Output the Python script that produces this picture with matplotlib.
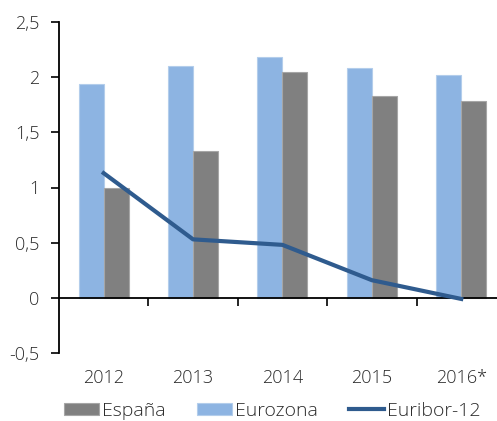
import numpy as np
import matplotlib
matplotlib.use("Agg")
import matplotlib.pyplot as plt

# Data
years = ['2012', '2013', '2014', '2015', '2016*']
espana = [1.00, 1.33, 2.05, 1.83, 1.78]
eurozona = [1.94, 2.10, 2.18, 2.08, 2.02]
euribor = [1.13, 0.53, 0.48, 0.16, -0.01]
yticks = [-0.5, 0, 0.5, 1, 1.5, 2, 2.5]
ytick_labels = ['-0,5', '0', '0,5', '1', '1,5', '2', '2,5']

plt.rcParams['font.family'] = ['Open Sans', 'DejaVu Sans']
plt.rcParams['font.size'] = 13
plt.rcParams['font.weight'] = 'light'

fig = plt.figure(figsize=(4.97, 4.21), dpi=100)
ax = fig.add_axes([59/497, (421-353)/421, (497-59)/497, (353-22)/421])

x = np.arange(len(years))
w = 0.28
b_eu = ax.bar(x - w/2, eurozona, w, color='#8DB4E2', edgecolor='#B3CDEB',
              linewidth=0.8, zorder=2)
b_es = ax.bar(x + w/2, espana, w, color='#808080', edgecolor='#A6A6A6',
              linewidth=0.8, zorder=2)
l_eb, = ax.plot(x, euribor, color='#2F5B8E', linewidth=3, zorder=3)

ax.set_xlim(-0.5, 4.4)
ax.set_ylim(-0.5, 2.5)
ax.set_yticks(yticks)
ax.set_yticklabels(ytick_labels, color='#2b2b2b')
ax.tick_params(axis='y', length=6, width=1.2, pad=8)

ax.spines['bottom'].set_position(('data', 0))
ax.spines['top'].set_visible(False)
ax.spines['right'].set_visible(False)
ax.spines['left'].set_linewidth(1.3)
ax.spines['bottom'].set_linewidth(1.3)

ax.set_xticks(x)
ax.set_xticklabels(years, color='#2b2b2b')
ax.set_xticks(x[:-1] + 0.5, minor=True)
ax.tick_params(axis='x', which='major', length=0, pad=51)
ax.tick_params(axis='x', which='minor', length=6, width=1.2)

fig.legend([b_es, b_eu, l_eb], ['España', 'Eurozona', 'Euribor-12'],
           loc='center', bbox_to_anchor=(0.548, 0.024), ncol=3, frameon=False,
           handlelength=1.8, handleheight=0.6, columnspacing=1.6,
           handletextpad=0.15, fontsize=14, labelcolor='#2b2b2b',
           borderaxespad=0, borderpad=0)

fig.savefig('out.png', dpi=100)
